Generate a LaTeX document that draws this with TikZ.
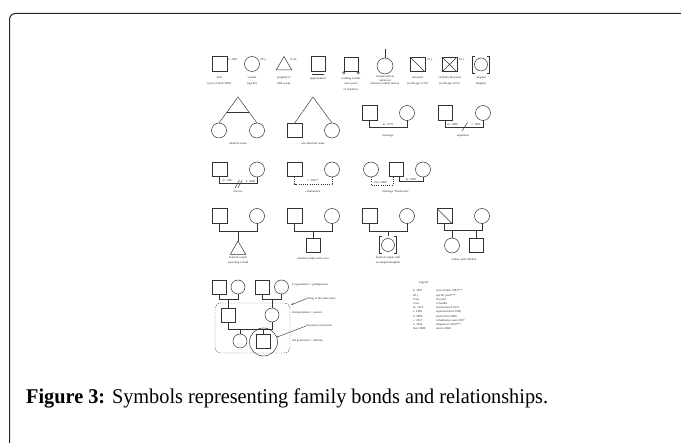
\documentclass[tikz,border=0pt]{standalone}
\usepackage{fontspec}
\setmainfont{Liberation Serif}
\usetikzlibrary{shapes.geometric,arrows.meta,calc}
\begin{document}
\begin{tikzpicture}[x=1pt,y=-1pt,
 sym/.style={draw=black!80, line width=0.5pt, inner sep=0pt, outer sep=0pt},
 sq/.style={sym, rectangle, minimum size=14.5pt},
 ci/.style={sym, circle, minimum size=15pt},
 cis/.style={sym, circle, minimum size=13pt},
 tri/.style={sym, regular polygon, regular polygon sides=3, minimum size=18pt},
 ln/.style={draw=black!80, line width=0.45pt},
 dl/.style={ln, dash pattern=on 0.8pt off 1.4pt},
 lb/.style={font=\fontsize{3}{5.5}\selectfont, text=black!85, inner sep=0pt, align=center},
 lbt/.style={font=\fontsize{3}{3.6}\selectfont, text=black!85, inner sep=0pt, align=center},
 note/.style={lb, anchor=west},
 arr/.style={ln, -{Stealth[length=2.2pt,width=1.6pt]}},
]
\useasboundingbox (0,0) rectangle (681,443);
\begin{scope}
\clip (0,0) rectangle (681,443);
\draw[black!85, line width=1pt, rounded corners=6pt] (9.5,13.5) rectangle (720,480);
\end{scope}

% ---------- row 1 ----------
\node[sq] (man) at (219.5,64) {};
\node[note] (manA) at (228,59.5) {b. 1981};
\node[lb] (manL) at (219.5,81) {man\\(year of birth 1981)};

\node[ci] (wom) at (252,64) {};
\node[note] (womA) at (260.5,59.5) {85 y.};
\node[lb] (womL) at (252,81) {woman\\(age 85)};

\node[tri] (preg) at (284,65.5) {};
\node[note] (pregA) at (290.5,59.5) {8 wk};
\node[lb] (pregL) at (284,81) {pregnancy*\\(8th week)};

\node[sq] (pup) at (318,64) {};
\draw[ln] ([xshift=-6pt,yshift=-2.5pt]pup.south) -- ([xshift=6pt,yshift=-2.5pt]pup.south);
\node[lb] (pupL) at (318,79) {pupil/student};

\node[sq] (res) at (351,64.5) {};
\draw[ln] ([yshift=-1.2pt]res.south west) circle (1.2pt);
\draw[ln] ([yshift=-1.2pt]res.south east) circle (1.2pt);
\node[lb] (resL) at (351,83.5) {residing outside\\one's place\\of residence};

\node[ci, minimum size=16pt] (unk) at (385,66) {};
\draw[ln] (unk.north) -- ++(0,-9);
\node[lbt] (unkL) at (385,80.5) {woman with an\\unknown\\unknown family history};

\node[sq] (dec) at (417.5,64.5) {};
\draw[ln] (dec.north west) -- (dec.south east);
\node[note] (decA) at (427,59.5) {70 y.};
\node[lb] (decL) at (417.5,81) {deceased\\(at the age of 70)};

\node[sq] (vio) at (449.5,64.5) {};
\draw[ln] (vio.north west) -- (vio.south east) (vio.north east) -- (vio.south west);
\node[note] (vioA) at (459,59.5) {63 y.};
\node[lb] (vioL) at (449.5,81) {violently deceased\\(at the age of 63)};

\node[cis] (ado) at (481,64.5) {};
\draw[ln] (ado.center) ++(-6,-8.5) -- ++(-2.5,0) -- ++(0,17) -- ++(2.5,0);
\draw[ln] (ado.center) ++(6,-8.5) -- ++(2.5,0) -- ++(0,17) -- ++(-2.5,0);
\node[lb] (adoL) at (481,81) {adopted\\daughter};

% ---------- row 2 ----------
\coordinate (tw1) at (238,97);
\node[ci] (tw1a) at (219,130.5) {};
\node[ci] (tw1b) at (257,130.5) {};
\draw[ln] (tw1a.north) -- (tw1) -- (tw1b.north);
\draw[ln] ($(tw1)!0.57!(tw1a.north)$) -- ($(tw1)!0.57!(tw1b.north)$);
\node[lb] (tw1L) at (238,143.5) {identical twins};

\coordinate (tw2) at (313,97);
\node[sq] (tw2a) at (294.5,130.5) {};
\node[ci] (tw2b) at (332,130.5) {};
\draw[ln] (tw2a.north) -- (tw2) -- (tw2b.north);
\node[lb] (tw2L) at (313,143.5) {non-identical twins};

\node[sq] (mh) at (369.5,113) {};
\node[ci] (mw) at (407,113) {};
\draw[ln] (mh.south) -- ++(0,6.5) -| (mw.south);
\node[lb] (mA) at (388,124.3) {m. 1975};
\node[lb] (mL) at (388,135.5) {marriage};

\node[sq] (sh) at (445,113) {};
\node[ci] (sw) at (483,113) {};
\draw[ln] (sh.south) -- ++(0,6.5) -| (sw.south);
\node[lb] (sA) at (452.5,124.3) {m. 1980};
\node[lb] (sB) at (476,124.3) {s. 1985};
\draw[ln] (462,131) -- (467.5,122.5);
\node[lb] (sL) at (463,136) {separation};

% ---------- row 3 ----------
\node[sq] (dh) at (219.5,169.5) {};
\node[ci] (dw) at (257,169.5) {};
\draw[ln] (dh.south) -- ++(0,6.5) -| (dw.south);
\node[lb] (dA) at (227.5,181) {m. 1997};
\node[lb] (dB) at (250.5,181) {d. 2000};
\draw[ln] (235,188) -- (239.5,180) (237.8,188) -- (242.3,180);
\node[lb] (dL) at (238,191.5) {divorce};

\node[sq] (ch) at (294.5,169.5) {};
\node[ci] (cw) at (332,169.5) {};
\draw[dl] (ch.south) -- ++(0,7) -| (cw.south);
\node[lb] (cA) at (313,181) {c. 2017*};
\node[lb] (cL) at (313,191.5) {cohabitation};

\node[ci] (p1) at (371,169.5) {};
\node[sq] (p2) at (396,169.5) {};
\node[ci] (p3) at (423,169.5) {};
\draw[dl] (p1.south) -- ++(0,8) -| ([xshift=-3pt]p2.south);
\draw[ln] ([xshift=3.5pt]p2.south) -- ++(0,4.5) -| (p3.south);
\node[lb] (pA) at (380.5,182.3) {met. 2000};
\node[lb] (pB) at (411,179.3) {m. 2005};
\node[lb] (pL) at (396,191.5) {marriage “Patchwork”};

% ---------- row 4 ----------
\node[sq] (e1) at (219.5,216) {};
\node[ci] (e2) at (257,216) {};
\draw[ln] (e1.south) -- ++(0,7.5) -| (e2.south);
\coordinate (em) at (238,230.75);
\node[tri] (e3) at (238,250) {};
\draw[ln] (em) -- (e3.north);
\node[lb] (eL) at (238,260.5) {married couple\\expecting a child};

\node[sq] (s1) at (294.5,216) {};
\node[ci] (s2) at (332,216) {};
\draw[ln] (s1.south) -- ++(0,7.5) -| (s2.south);
\coordinate (sm) at (313,230.75);
\node[sq] (s3) at (313,245.5) {};
\draw[ln] (sm) -- (s3.north);
\node[lb] (soL) at (313,259) {married couple with a son};

\node[sq] (a1) at (369.5,216) {};
\node[ci] (a2) at (407,216) {};
\draw[ln] (a1.south) -- ++(0,7.5) -| (a2.south);
\coordinate (am) at (388,230.75);
\node[cis] (a3) at (388,245) {};
\draw[ln] (a3.center) ++(-6,-8.5) -- ++(-2.5,0) -- ++(0,17) -- ++(2.5,0);
\draw[ln] (a3.center) ++(6,-8.5) -- ++(2.5,0) -- ++(0,17) -- ++(-2.5,0);
\draw[ln] (am) -- ([yshift=2pt]a3.north);
\node[lb] (aL) at (388,260.5) {married couple with\\an adopted daughter};

\node[sq] (w1) at (444.5,216) {};
\draw[ln] (w1.north west) -- (w1.south east);
\node[ci] (w2) at (482,216) {};
\draw[ln] (w1.south) -- ++(0,7) -| (w2.south);
\coordinate (wm1) at (452,230.25);
\coordinate (wm2) at (476,230.25);
\node[ci] (w3) at (452,245.5) {};
\node[sq] (w4) at (476,245.5) {};
\draw[ln] (wm1) -- (w3.north) (wm2) -- (w4.north);
\node[lb] (wL) at (464,259.5) {widow with children};

% ---------- genealogy ----------
\node[sq, minimum size=14pt] (g1) at (219,287) {};
\node[ci, minimum size=14pt] (g2) at (238,287) {};
\node[sq, minimum size=14pt] (g3) at (262,287) {};
\node[ci, minimum size=14pt] (g4) at (281.5,287) {};
\draw[ln] (g1.south) -- ++(0,5) -| (g2.south);
\draw[ln] (g3.south) -- ++(0,5) -| (g4.south);
\coordinate (gm1) at (228.5,299);
\coordinate (gm2) at (272,299);
\node[sq, minimum size=14pt] (g5) at (228.5,315) {};
\node[ci, minimum size=14pt] (g6) at (272,315) {};
\draw[ln] (gm1) -- (g5.north) (gm2) -- (g6.north);
\draw[ln] (g5.south) -- ++(0,7) -| (g6.south);
\coordinate (gm3) at (240,329);
\coordinate (gm4) at (263,329);
\node[ci, minimum size=14pt] (g7) at (240,341) {};
\node[sq, minimum size=14pt] (g8) at (263,341) {};
\draw[ln] (gm3) -- (g7.north) (gm4) -- (g8.north);
\node[sym, circle, minimum size=28pt] (pc) at (263.5,342) {};
\node[draw=black!75, line width=0.45pt, dash pattern=on 1.3pt off 1.3pt, rounded corners=6pt,
      minimum width=75pt, minimum height=50pt, inner sep=0pt] (box) at (252.5,328) {};

\node[note] (l1) at (292,285) {1st generation = grandparents};
\node[note] (l2) at (307,298.5) {living in the same place};
\draw[arr] (l2.west) -- ([xshift=1pt,yshift=-2pt]box.north east);
\node[note] (l3) at (292,313) {2nd generation = parents};
\node[note] (l4) at (306,326) {the person concerned};
\draw[arr] (l4.west) -- (pc.20);
\node[note] (l5) at (292,341) {3rd generation = children};

% ---------- legend ----------
\node[lb] (leg) at (423.5,283) {Legend};
\node[font=\fontsize{3}{4.2}\selectfont, text=black!85, inner sep=0pt, align=left, anchor=north west] (legt) at (413,289.5)
 {\makebox[23pt][l]{b. 1981}year of birth 1981***\\
  \makebox[23pt][l]{85 y.}age 85 years***\\
  \makebox[23pt][l]{8 wk}8 weeks\\
  \makebox[23pt][l]{2 mo}2 months\\
  \makebox[23pt][l]{m. 1975}married since 1975\\
  \makebox[23pt][l]{s. 1985}separated since 1985\\
  \makebox[23pt][l]{d. 2000}divorced in 2000\\
  \makebox[23pt][l]{c. 2017}cohabitation since 2017\\
  \makebox[23pt][l]{a. 2014}adoption in 2014***\\
  \makebox[23pt][l]{met. 2000}met in 2000};

% ---------- caption ----------
\node[anchor=base west, inner sep=0pt, font=\fontsize{21}{25}\selectfont] (cap) at (26,404)
 {\scalebox{0.966}[1]{\textbf{Figure 3:} Symbols representing family bonds and relationships.}};
\end{tikzpicture}
\end{document}
